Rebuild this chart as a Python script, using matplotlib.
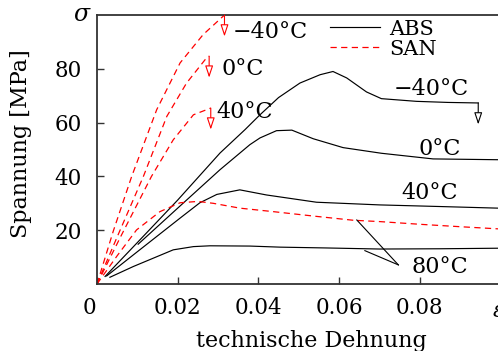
import matplotlib
matplotlib.use("Agg")
import matplotlib.pyplot as plt
from matplotlib.transforms import ScaledTranslation

plt.rcParams['font.family'] = ['DejaVu Serif']
plt.rcParams['mathtext.fontset'] = 'dejavuserif'

# ---- data (strain, stress MPa) ----
abs_m40_x = [0.002, 0.010, 0.020, 0.0305, 0.0367, 0.0404, 0.045, 0.0503, 0.0553, 0.0585, 0.0619, 0.0668, 0.0705, 0.0792, 0.0870, 0.0945]
abs_m40_y = [2.8, 15.4, 31.2, 48.7, 57.4, 62.9, 69.3, 74.7, 77.8, 79.0, 76.6, 71.4, 68.9, 67.9, 67.5, 67.3]
abs_0_x = [0.0102, 0.020, 0.0305, 0.0379, 0.0404, 0.0445, 0.0483, 0.0536, 0.061, 0.0705, 0.0833, 0.0994]
abs_0_y = [14.8, 28.2, 42.5, 51.8, 54.3, 57.0, 57.2, 54.0, 50.7, 48.6, 46.5, 46.2]
abs_40_x = [0.0024, 0.010, 0.0206, 0.0255, 0.0297, 0.0354, 0.042, 0.0544, 0.0701, 0.085, 0.0994]
abs_40_y = [3.0, 12.0, 24.5, 30.2, 33.3, 35.0, 33.1, 30.4, 29.4, 28.8, 28.2]
abs_80_x = [0.0032, 0.009, 0.0189, 0.0239, 0.028, 0.0379, 0.0454, 0.0568, 0.0701, 0.085, 0.0994]
abs_80_y = [2.5, 6.5, 12.7, 13.9, 14.2, 14.1, 13.7, 13.4, 13.0, 13.1, 13.3]

san_m40_x = [0, 0.004, 0.0086, 0.0148, 0.0206, 0.0263, 0.0316]
san_m40_y = [0, 19.5, 40, 64.8, 82.2, 92.7, 100.0]
san_0_x = [0, 0.005, 0.0115, 0.0173, 0.0222, 0.0268, 0.0278]
san_0_y = [0, 17.5, 40, 62.3, 74.7, 83.4, 84.7]
san_40_x = [0, 0.006, 0.0135, 0.0189, 0.0239, 0.0282]
san_40_y = [0, 18, 40, 53.6, 62.9, 65.4]
san_80_x = [0, 0.005, 0.0098, 0.0156, 0.0206, 0.025, 0.0288, 0.0354, 0.0437, 0.0540, 0.0635, 0.0701, 0.0800, 0.0900, 0.0994]
san_80_y = [0, 10.5, 20.1, 26.9, 30.2, 30.7, 30.0, 28.2, 26.9, 25.2, 23.7, 23.2, 22.2, 21.3, 20.5]

x_ticks = [0, 0.02, 0.04, 0.06, 0.08]
x_ticklabels = ['0', '0.02', '0.04', '0.06', '0.08']
y_ticks = [20, 40, 60, 80]
y_ticklabels = ['20', '40', '60', '80']

fig = plt.figure(figsize=(4.98, 3.51), dpi=100)
L, B = 97/498, 1 - 284/351
ax = fig.add_axes([L, B, 1 - L, (284 - 15)/351])
ax.set_xlim(0, 0.0994)
ax.set_ylim(0, 100)

blk = dict(color='black', lw=0.85)
red = dict(color='red', lw=0.9, linestyle=(0, (5, 3.5)))

ax.plot(abs_m40_x, abs_m40_y, label='ABS', **blk)
ax.plot(abs_0_x, abs_0_y, **blk)
ax.plot(abs_40_x, abs_40_y, **blk)
ax.plot(abs_80_x, abs_80_y, **blk)
ax.plot(san_m40_x, san_m40_y, label='SAN', **red)
ax.plot(san_0_x, san_0_y, **red)
ax.plot(san_40_x, san_40_y, **red)
ax.plot(san_80_x, san_80_y, **red)

def down_arrow(x, y, col):
    ax.annotate('', xy=(x, y - 8), xytext=(x, y),
                arrowprops=dict(arrowstyle='-|>,head_length=0.6,head_width=0.2',
                                ec=col, fc='white', lw=0.8, shrinkA=0, shrinkB=0,
                                mutation_scale=12), annotation_clip=False)

down_arrow(san_m40_x[-1], san_m40_y[-1], 'red')
down_arrow(san_0_x[-1], san_0_y[-1], 'red')
down_arrow(san_40_x[-1], san_40_y[-1], 'red')
down_arrow(abs_m40_x[-1], abs_m40_y[-1], 'black')

fs = 16
ax.text(0.0429, 91.6, '\u221240°C', fontsize=fs, ha='center', va='baseline')
ax.text(0.0362, 77.8, '0°C', fontsize=fs, ha='center', va='baseline')
ax.text(0.0367, 61.8, '40°C', fontsize=fs, ha='center', va='baseline')
ax.text(0.0828, 70.4, '\u221240°C', fontsize=fs, ha='center', va='baseline')
ax.text(0.0850, 48.0, '0°C', fontsize=fs, ha='center', va='baseline')
ax.text(0.0825, 31.7, '40°C', fontsize=fs, ha='center', va='baseline')
ax.text(0.0850, 4.1, '80°C', fontsize=fs, ha='center', va='baseline')
ax.plot([0.0747, 0.0644], [7.1, 23.8], color='black', lw=0.8)
ax.plot([0.0747, 0.0664], [7.1, 12.4], color='black', lw=0.8)

leg = ax.legend(loc='center left', bbox_to_anchor=(0.581, 0.91), frameon=False,
                fontsize=15, borderpad=0, borderaxespad=0, handlelength=2.4,
                handletextpad=0.45, labelspacing=0.05)

for s in ['left', 'bottom', 'top']:
    ax.spines[s].set_linewidth(1.3)
    ax.spines[s].set_color('#333333')
ax.spines['right'].set_visible(False)

ax.set_xticks(x_ticks)
ax.set_xticklabels(x_ticklabels)
ax.set_yticks(y_ticks)
ax.set_yticklabels(y_ticklabels)
ax.tick_params(axis='both', direction='in', length=5, width=1.0, color='#333333',
               labelsize=15.5, top=False, right=False)
ax.tick_params(axis='x', pad=9.5)
ax.tick_params(axis='y', pad=11)
lab0 = ax.get_xticklabels()[0]
lab0.set_transform(lab0.get_transform() + ScaledTranslation(-8/100, 0, fig.dpi_scale_trans))

fig.text(21/498, 1 - 144/351, 'Spannung [MPa]', rotation=90, fontsize=16, ha='center', va='center')
fig.text(311/498, 1 - 346.7/351, 'technische Dehnung', fontsize=16, ha='center', va='baseline')
fig.text(82/498, 1 - 21/351, r'$\sigma$', fontsize=17, ha='center', va='baseline')
fig.text(492/498, 1 - 317/351, r'$\varepsilon$', fontsize=16, ha='left', va='baseline')

fig.savefig('out.png', dpi=100)
